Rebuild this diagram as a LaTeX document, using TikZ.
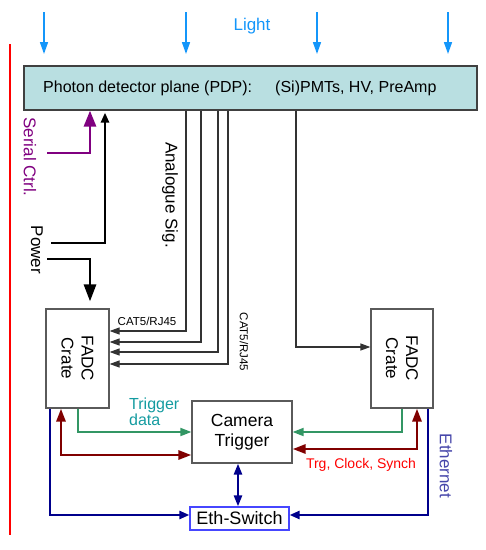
\documentclass[tikz,border=0pt]{standalone}
\usepackage{fontspec}
\setmainfont{Liberation Sans}
\usetikzlibrary{arrows.meta}
\definecolor{lightblue}{RGB}{20,150,250}
\definecolor{pdpfill}{RGB}{185,223,225}
\definecolor{boxgray}{RGB}{90,90,90}
\definecolor{mypurple}{RGB}{128,0,128}
\definecolor{mygreen}{RGB}{50,150,100}
\definecolor{myteal}{RGB}{20,155,160}
\definecolor{mydarkred}{RGB}{128,0,0}
\definecolor{mynavy}{RGB}{0,0,140}
\definecolor{ethtext}{RGB}{70,70,170}
\definecolor{ethbox}{RGB}{70,70,255}
\tikzset{
  box/.style={draw=boxgray, line width=1.2pt, fill=white, inner sep=0pt},
  lightarr/.style={draw=lightblue, line width=1.6pt, -{Triangle[length=12pt,width=8pt]}},
  sig/.style={draw=black!80, line width=1.2pt, -{Triangle[length=10pt,width=7pt]}},
  thickblk/.style={draw=black, line width=2.8pt, -{Triangle[length=17pt,width=12pt]}},
  purp/.style={draw=mypurple, line width=2.8pt, -{Triangle[length=16pt,width=12pt]}},
  grn/.style={draw=mygreen, line width=1.8pt, -{Triangle[length=11pt,width=8pt]}},
  dred/.style={draw=mydarkred, line width=2.8pt, {Triangle[length=13pt,width=9pt]}-{Triangle[length=13pt,width=9pt]}},
  nvy/.style={draw=mynavy, line width=2.4pt, -{Triangle[length=10pt,width=8pt]}},
  nvybi/.style={draw=mynavy, line width=2.4pt, {Triangle[length=11pt,width=8pt]}-{Triangle[length=11pt,width=8pt]}},
  lbl/.style={font=\fontsize{17}{20}\selectfont, inner sep=0pt},
}
\begin{document}
\begin{tikzpicture}[x=1pt,y=-1pt]
\useasboundingbox (0,0) rectangle (486,550);
% red line
\draw[red, line width=2pt] (10,44) -- (10,535);
% light arrows
\foreach \xx/\nm in {44/a,186/b,317/c,448/d}{
  \coordinate (lt\nm) at (\xx,12);
  \coordinate (lb\nm) at (\xx,54);
  \draw[lightarr] (lt\nm) -- (lb\nm);
}
\node[lbl, text=lightblue] (light) at (252,26) {Light};
% PDP
\node[box, fill=pdpfill, draw=black!75, minimum width=453pt, minimum height=44pt] (pdp) at (250.5,88) {};
\node[font=\fontsize{16}{19}\selectfont, anchor=west, inner sep=0pt] (pdptxt) at (43,88) {Photon detector plane (PDP):};
\node[font=\fontsize{16}{19}\selectfont, anchor=west, inner sep=0pt] (pdptxt2) at (275,88) {(Si)PMTs, HV, PreAmp};
% boxes
\node[box, minimum width=63pt, minimum height=99pt] (fadcL) at (77.5,358.5) {};
\node[lbl, rotate=-90, align=center] (fadcLt) at (fadcL.center) {FADC\\Crate};
\node[box, minimum width=62pt, minimum height=99pt] (fadcR) at (402,358.5) {};
\node[lbl, rotate=-90, align=center] (fadcRt) at (fadcR.center) {FADC\\Crate};
\node[box, minimum width=100pt, minimum height=62pt, align=center, font=\fontsize{17.5}{20}\selectfont] (trig) at (242,432) {Camera\\Trigger};
\node[box, draw=ethbox, minimum width=99pt, minimum height=23pt, font=\fontsize{18}{20}\selectfont] (eth) at (239.5,518.5) {Eth-Switch};
% serial ctrl and power
\coordinate (sc) at (47,153);
\draw[purp] (sc) -| (pdp.south -| 90,0);
\node[lbl, rotate=-90, text=mypurple] (sctxt) at (30,157) {Serial Ctrl.};
\coordinate (pw1) at (51,243);
\draw[draw=black, line width=2.8pt, -{Triangle[length=10pt,width=8pt]}] (pw1) -| ([yshift=-2pt]pdp.south -| 105,0);
\coordinate (pw2) at (47,259);
\draw[thickblk] (pw2) -| ([yshift=7pt]fadcL.north -| 90,0);
\node[lbl, rotate=-90] (pwtxt) at (37,250) {Power};
% analogue signals
\draw[sig] (pdp.south -| 186,0) |- (fadcL.east |- 0,331);
\draw[sig] (pdp.south -| 201,0) |- (fadcL.east |- 0,342);
\draw[sig] (pdp.south -| 218,0) |- (fadcL.east |- 0,352);
\draw[sig] (pdp.south -| 228,0) |- (fadcL.east |- 0,364);
\draw[sig] (pdp.south -| 296,0) |- (fadcR.west |- 0,347);
\node[lbl, rotate=-90] (anatxt) at (170,195) {Analogue Sig.};
\node[font=\fontsize{11.5}{13}\selectfont, inner sep=0pt] (cat1) at (147,321) {CAT5/RJ45};
\node[font=\fontsize{11.5}{13}\selectfont, inner sep=0pt, rotate=-90] (cat2) at (244,342) {CAT5/RJ45};
% trigger data
\draw[grn] (fadcL.south -| 78,0) |- (trig.west |- 0,432);
\draw[grn] (fadcR.south -| 402,0) |- (trig.east |- 0,432);
\node[font=\fontsize{16}{12}\selectfont, text=myteal, align=left, anchor=west, inner sep=0pt] (tdtxt) at (129,412) {Trigger\\data};
% trg clock synch
\draw[dred] (fadcL.south -| 61,0) |- (trig.west |- 0,455);
\draw[dred] (fadcR.south -| 417,0) |- (trig.east |- 0,449);
\node[font=\fontsize{14}{16}\selectfont, text=red, inner sep=0pt] (tcstxt) at (361,465) {Trg, Clock, Synch};
% ethernet
\draw[nvy] (fadcL.south -| 50,0) |- (eth.west |- 0,515);
\draw[nvy] (fadcR.south -| 428,0) |- (eth.east |- 0,515);
\draw[nvybi] (trig.south -| 238,0) -- (eth.north -| 238,0);
\node[lbl, rotate=-90, text=ethtext] (ethtxt) at (446,466) {Ethernet};
\end{tikzpicture}
\end{document}
